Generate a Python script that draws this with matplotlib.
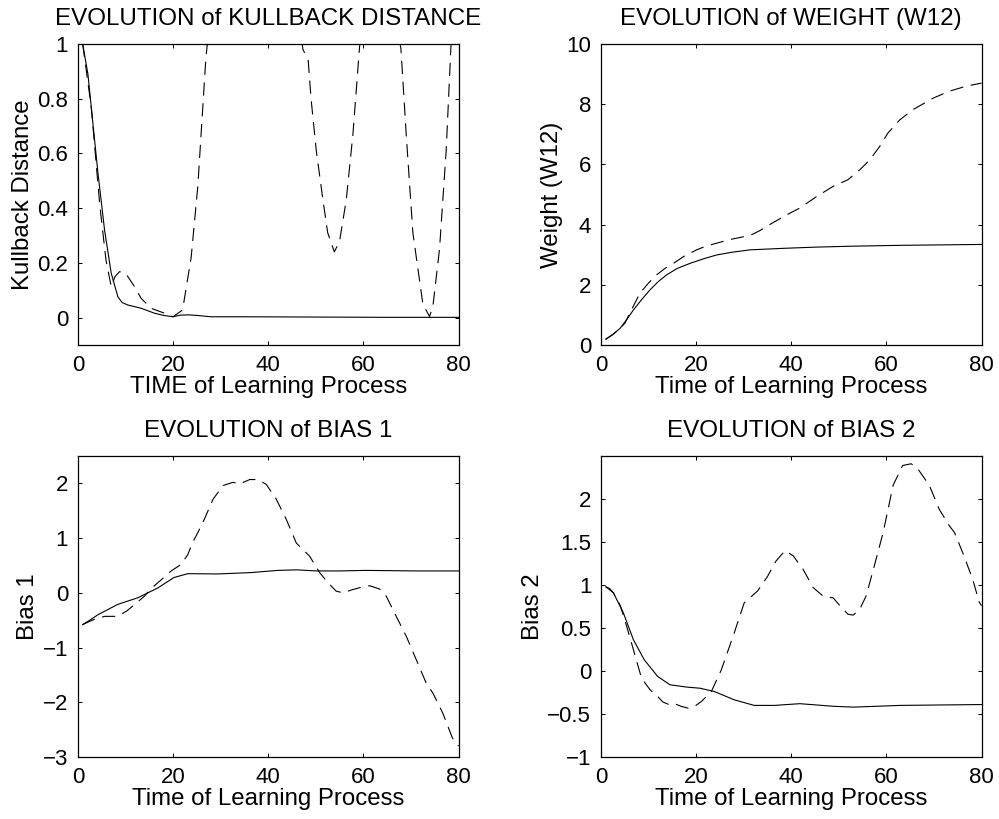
import matplotlib
matplotlib.use("Agg")
import matplotlib.pyplot as plt

plt.rcParams['font.family'] = ['Liberation Sans', 'DejaVu Sans']
plt.rcParams['lines.scale_dashes'] = False

# ---- Kullback distance ----
kl_t_solid = [1, 2.1, 3.15, 4.2, 5.6, 7, 8.4, 9.3, 10.5, 13.3, 16.1, 18, 20, 21.5, 23.2, 25, 28, 35, 50, 65, 80]
kl_solid = [1.0, 0.89, 0.71, 0.53, 0.32, 0.162, 0.076, 0.055, 0.046, 0.034, 0.016, 0.008, 0.003, 0.009, 0.01, 0.008, 0.003, 0.003, 0.002, 0.001, 0.001]
kl_t_dash = [1, 2.8, 4.6, 5.9, 7, 7.8, 8.75, 10.1, 11.9, 13.3, 15.4, 18.2, 20, 22, 23.8, 25.2, 26.9, 29, 33, 37, 41, 45,
             47.3, 48.4, 49, 50.1, 51.5, 52.5, 53.9, 55, 56.4, 57.8, 59.2, 61, 63.5, 66, 67.9,
             69, 70.4, 72.5, 73.9, 74.6, 76, 77.4, 78.4, 80]
kl_dash = [1.0, 0.77, 0.41, 0.21, 0.113, 0.15, 0.168, 0.16, 0.113, 0.07, 0.034, 0.016, 0.003, 0.028, 0.22, 0.48, 0.95, 1.3, 1.7, 1.8, 1.65, 1.25,
           0.98, 0.94, 0.8, 0.61, 0.43, 0.31, 0.24, 0.28, 0.43, 0.67, 0.99, 1.25, 1.35, 1.2, 0.98,
           0.67, 0.31, 0.05, 0.004, 0.04, 0.25, 0.61, 0.99, 1.4]

# ---- Weight W12 ----
w_t_solid = [1, 2.5, 4, 5.4, 6.8, 8.5, 10.3, 12, 13.8, 16, 18.7, 21.5, 24.3, 27.5, 31.3, 38.3, 45, 52.3, 62.8, 80]
w_solid = [0.19, 0.35, 0.55, 0.84, 1.16, 1.5, 1.83, 2.1, 2.33, 2.54, 2.71, 2.86, 2.99, 3.08, 3.16, 3.21, 3.25, 3.28, 3.31, 3.34]
w_t_dash = [1, 2.5, 4, 5, 6.5, 8.2, 10, 11.7, 13.5, 15.2, 17.5, 20.1, 22, 24.3, 27, 29.2, 31.5, 33.4, 36, 39, 41.8,
            45.3, 48.8, 51.9, 54.4, 56.5, 58.6, 60.3, 62.8, 65.6, 69.8, 73.2, 76.8, 80]
w_dash = [0.19, 0.35, 0.55, 0.72, 1.2, 1.72, 2.06, 2.33, 2.55, 2.71, 2.95, 3.16, 3.28, 3.38, 3.5, 3.57, 3.65, 3.8, 4.05, 4.32, 4.55,
          4.93, 5.27, 5.49, 5.82, 6.15, 6.6, 7.04, 7.48, 7.82, 8.2, 8.43, 8.6, 8.7]

# ---- Bias 1 ----
b1_t_solid = [1, 2.5, 4.2, 8.4, 12.6, 16.8, 20.2, 23.1, 29.4, 36.4, 42, 46, 50.1, 55, 60.6, 71, 80]
b1_solid = [-0.58, -0.5, -0.4, -0.21, -0.09, 0.09, 0.28, 0.35, 0.345, 0.37, 0.41, 0.42, 0.40, 0.40, 0.41, 0.40, 0.40]
b1_t_dash = [1, 3.3, 5.6, 8, 9.3, 10.3, 12.1, 14, 15.4, 17.8, 19.6, 21.7, 23.1, 24.1, 25.2, 26.6, 28.4, 30.5, 32.6, 34,
             36.1, 37.9, 39.6, 41.7, 43.8, 45.9, 48.7, 50.8, 52.6, 54.3, 55.7, 57.8, 59.9, 61.3, 63.4, 64.8,
             66.9, 69, 71.1, 73.2, 74.6, 76.7, 78.7, 80]
b1_dash = [-0.58, -0.49, -0.43, -0.43, -0.38, -0.33, -0.2, -0.06, 0.08, 0.26, 0.4, 0.52, 0.7, 0.92, 1.1, 1.35, 1.71, 1.96, 2.02, 1.99,
           2.07, 2.07, 1.98, 1.71, 1.34, 0.91, 0.67, 0.37, 0.18, 0.03, 0.0, 0.06, 0.11, 0.13, 0.07, -0.06,
           -0.43, -0.79, -1.22, -1.65, -1.83, -2.2, -2.65, -2.8]

# ---- Bias 2 ----
b2_t_solid = [1, 1.8, 2.6, 4.7, 6.8, 9.1, 11.9, 14.5, 18, 20.8, 23.8, 28, 32.2, 36.4, 41.8, 48.8, 53, 62.8, 80]
b2_solid = [0.98, 0.96, 0.91, 0.676, 0.365, 0.13, -0.063, -0.16, -0.187, -0.2, -0.238, -0.335, -0.4, -0.4, -0.38, -0.41, -0.42, -0.40, -0.39]
b2_t_dash = [1, 2.6, 4.1, 5.5, 6.8, 8.5, 10.3, 11.9, 13, 14.4, 15.5, 16.8, 18.3, 19.7, 21.1, 23.2, 25.3, 28, 30.1,
             32.9, 35, 36.8, 38.7, 40.4, 42.5, 44.6, 46.7, 48.8, 50.2, 51.9, 53, 54.4, 55.7, 57.1, 59.3, 61.4,
             63.4, 65.2, 66.6, 69, 71.1, 73.2, 74.3, 76, 78.1, 79.5, 80]
b2_dash = [0.98, 0.91, 0.755, 0.5, 0.25, -0.08, -0.218, -0.296, -0.36, -0.393, -0.38, -0.41, -0.432, -0.41, -0.355, -0.238, 0.015, 0.443, 0.793,
           0.93, 1.1, 1.28, 1.4, 1.34, 1.18, 0.97, 0.87, 0.85, 0.76, 0.66, 0.65, 0.72, 0.87, 1.15, 1.61, 2.16,
           2.39, 2.41, 2.35, 2.16, 1.88, 1.69, 1.61, 1.38, 1.07, 0.8, 0.76]

panels = [
    dict(pos=[0.078, 0.5788, 0.381, 0.3675], title='EVOLUTION of KULLBACK DISTANCE',
         xlabel='TIME of Learning Process', ylabel='Kullback Distance',
         ts=kl_t_solid, s=kl_solid, td=kl_t_dash, d=kl_dash, ylim=(-0.1, 1),
         yticks=[0, 0.2, 0.4, 0.6, 0.8, 1], ytl=['0', '0.2', '0.4', '0.6', '0.8', '1']),
    dict(pos=[0.6016, 0.5788, 0.381, 0.3675], title='EVOLUTION of WEIGHT (W12)',
         xlabel='Time of Learning Process', ylabel='Weight (W12)',
         ts=w_t_solid, s=w_solid, td=w_t_dash, d=w_dash, ylim=(0, 10),
         yticks=[0, 2, 4, 6, 8, 10], ytl=['0', '2', '4', '6', '8', '10']),
    dict(pos=[0.078, 0.0757, 0.381, 0.3675], title='EVOLUTION of BIAS 1',
         xlabel='Time of Learning Process', ylabel='Bias 1',
         ts=b1_t_solid, s=b1_solid, td=b1_t_dash, d=b1_dash, ylim=(-3, 2.5),
         yticks=[-3, -2, -1, 0, 1, 2], ytl=['\u22123', '\u22122', '\u22121', '0', '1', '2']),
    dict(pos=[0.6016, 0.0757, 0.381, 0.3675], title='EVOLUTION of BIAS 2',
         xlabel='Time of Learning Process', ylabel='Bias 2',
         ts=b2_t_solid, s=b2_solid, td=b2_t_dash, d=b2_dash, ylim=(-1, 2.5),
         yticks=[-1, -0.5, 0, 0.5, 1, 1.5, 2], ytl=['\u22121', '\u22120.5', '0', '0.5', '1', '1.5', '2']),
]

fig = plt.figure(figsize=(9.99, 8.19), dpi=100)
for p in panels:
    ax = fig.add_axes(p['pos'])
    ax.plot(p['td'], p['d'], color='black', lw=0.8, dashes=(9.5, 5.5))
    ax.plot(p['ts'], p['s'], color='black', lw=0.8)
    ax.set_xlim(0, 80)
    ax.set_ylim(*p['ylim'])
    ax.set_xticks([0, 20, 40, 60, 80])
    ax.set_yticks(p['yticks'])
    ax.set_yticklabels(p['ytl'])
    ax.tick_params(direction='in', top=True, right=True, length=3, width=0.7,
                   labelsize=16, pad=7)
    for sp in ax.spines.values():
        sp.set_linewidth(0.9)
    ax.set_title(p['title'], fontsize=17.4, pad=13.5)
    ax.set_xlabel(p['xlabel'], fontsize=17.3, labelpad=0.5)
    ax.set_ylabel(p['ylabel'], fontsize=17.3, labelpad=2.5)

fig.savefig('out.png', dpi=100)
